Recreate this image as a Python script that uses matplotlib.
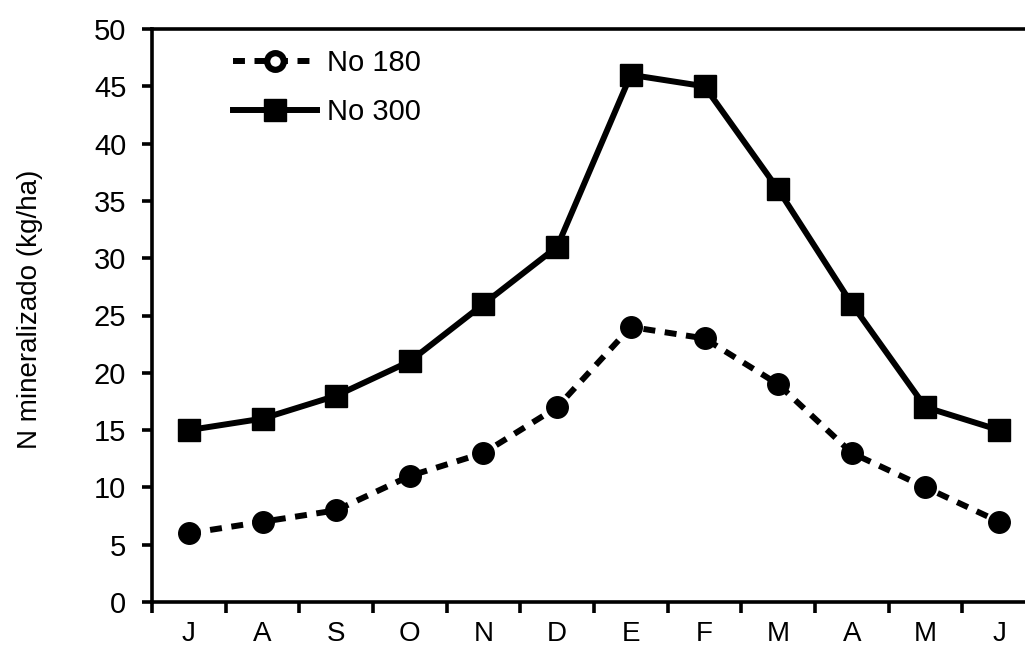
import matplotlib
matplotlib.use("Agg")
import matplotlib.pyplot as plt
from matplotlib.lines import Line2D
import numpy as np

months = ["J", "A", "S", "O", "N", "D", "E", "F", "M", "A", "M", "J"]
no180 = [6, 7, 8, 11, 13, 17, 24, 23, 19, 13, 10, 7]
no300 = [15, 16, 18, 21, 26, 31, 46, 45, 36, 26, 17, 15]
yticks = [0, 5, 10, 15, 20, 25, 30, 35, 40, 45, 50]

plt.rcParams['font.family'] = ['Liberation Sans', 'DejaVu Sans']

fig = plt.figure(figsize=(10.25, 6.54), dpi=100)
ax = fig.add_axes([152/1025, 1-602/654, 884/1025, 573/654])

x = np.arange(len(months))
lw = 4.3
ax.plot(x, no300, color='black', lw=lw, marker='s', markersize=16, label='No 300')
ax.plot(x, no180, color='black', lw=lw, marker='o', markersize=15.5,
        dashes=(2.0, 1.6), label='No 180')

ax.set_xlim(-0.5, 11.5)
ax.set_ylim(0, 50)
ax.set_yticks(yticks)
ax.set_yticklabels([str(v) for v in yticks])
ax.set_xticks(x)
ax.set_xticklabels(months)
ax.set_xticks(np.arange(-0.5, 12, 1.0), minor=True)

fs = 21
ax.tick_params(axis='x', which='major', length=0, pad=14, labelsize=20)
ax.tick_params(axis='x', which='minor', length=8, width=2.6, direction='out')
ax.tick_params(axis='y', which='major', length=7.5, width=2.6, direction='out',
               pad=11, labelsize=fs)

for s in ['left', 'bottom', 'top']:
    ax.spines[s].set_linewidth(2.6)
ax.spines['right'].set_visible(False)

ax.set_ylabel('N mineralizado (kg/ha)', fontsize=20)
ax.yaxis.set_label_coords(-0.123, 0.51)

h180 = Line2D([], [], color='black', lw=lw, dashes=(2.0, 1.6), marker='o',
              markersize=12, markerfacecolor='white', markeredgewidth=4.5)
h300 = Line2D([], [], color='black', lw=lw, marker='s', markersize=16)
ax.legend([h180, h300], ['No 180', 'No 300'], loc='upper left',
          bbox_to_anchor=(0.078, 0.985), frameon=False, fontsize=fs,
          handlelength=2.9, handletextpad=0.35, labelspacing=0.72,
          borderaxespad=0)

fig.savefig('out.png', dpi=100)
